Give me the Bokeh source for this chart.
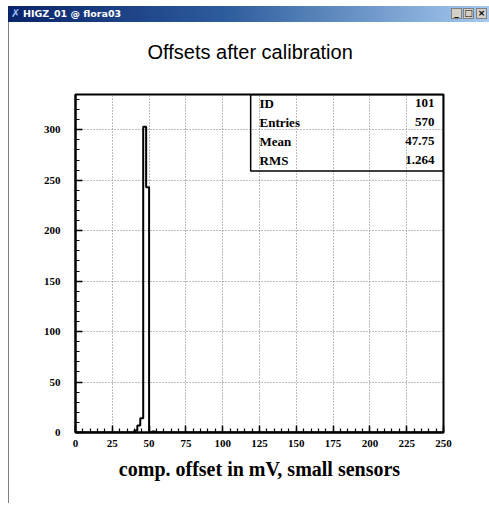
from bokeh.plotting import figure
from bokeh.models import Range1d, SingleIntervalTicker, BoxAnnotation, Div, ColumnDataSource, Title
from bokeh.layouts import column, row
from bokeh.core.properties import value
from bokeh.embed import file_html
from bokeh.resources import INLINE

# ---------------- data ----------------
window_title = "HIGZ_01 @ flora03"
title_text = "Offsets after calibration"
x_label = "comp. offset in mV, small sensors"

x_min, x_max = 0, 250
bin_width = 2
y_min, y_max = 0, 335
nonzero_bin_lows = [40, 42, 44, 46, 48, 52]
nonzero_bin_counts = [2, 7, 14, 303, 243, 1]

stat_names = ["ID", "Entries", "Mean", "RMS"]
stat_values = ["101", "570", "47.75", "1.264"]

x_tick_interval = 25
y_tick_interval = 50

# ---------------- build histogram ----------------
n_bins = (x_max - x_min) // bin_width
edges = [x_min + i * bin_width for i in range(n_bins + 1)]
counts = [0] * n_bins
for lo, c in zip(nonzero_bin_lows, nonzero_bin_counts):
    counts[(lo - x_min) // bin_width] = c
step_y = counts + [counts[-1]]

SERIF = "Liberation Serif"
SANS = "Liberation Sans"

p = figure(
    width=480, height=481,
    frame_width=368, frame_height=338,
    min_border_left=66, min_border_right=46,
    min_border_top=72, min_border_bottom=71,
    x_range=Range1d(x_min, x_max), y_range=Range1d(y_min, y_max),
    output_backend="svg", toolbar_location=None,
)
p.background_fill_color = "white"
p.border_fill_color = "white"
p.outline_line_color = "black"
p.outline_line_width = 2
p.outline_line_alpha = 1.0

xr = x_max - x_min
yr = y_max - y_min

# white spacer (closest to the frame) then the real title above it
p.add_layout(Title(text=".", text_font_size="10px", standoff=22, text_color="white"), "above")
p.add_layout(Title(text=title_text, align="left", offset=72, standoff=0,
                   vertical_align="bottom", text_font=SANS, text_font_style="normal",
                   text_font_size="20px", text_color="black"), "above")

xt = SingleIntervalTicker(interval=x_tick_interval, num_minor_ticks=5)
yt = SingleIntervalTicker(interval=y_tick_interval, num_minor_ticks=5)
p.xaxis.ticker = xt
p.yaxis.ticker = yt
p.xgrid.ticker = xt
p.ygrid.ticker = yt

for ax in (p.xaxis[0], p.yaxis[0]):
    ax.axis_line_color = "black"
    ax.axis_line_width = 2
    ax.major_tick_in = 7
    ax.major_tick_out = 0
    ax.minor_tick_in = 4
    ax.minor_tick_out = 0
    ax.major_tick_line_color = "black"
    ax.major_tick_line_width = 1.5
    ax.minor_tick_line_color = "black"
    ax.minor_tick_line_width = 1.2
    ax.major_label_text_font = SERIF
    ax.major_label_text_font_style = "bold"
    ax.major_label_text_font_size = "11px"
    ax.major_label_text_color = "black"

p.yaxis.major_label_standoff = 15
p.xaxis.major_label_standoff = 7
p.xaxis.axis_label = x_label
p.xaxis.axis_label_text_font = SERIF
p.xaxis.axis_label_text_font_style = "bold"
p.xaxis.axis_label_text_font_size = "20px"
p.xaxis.axis_label_text_color = "black"
p.xaxis.axis_label_standoff = 8

for g in (p.xgrid[0], p.ygrid[0]):
    g.grid_line_color = "#7a7a7a"
    g.grid_line_dash = "1 2"
    g.grid_line_width = 1

p.step(x=edges, y=step_y, mode="after", line_color="black", line_width=2)

# ---------------- statistics box ----------------
box_left = x_min + 0.476 * xr
box_bottom = y_min + 0.774 * yr
box_top = y_max
box_right = x_max
p.add_layout(BoxAnnotation(left=box_left, right=box_right, bottom=box_bottom, top=box_top,
                           fill_alpha=0, line_color="black", line_width=1.5, line_alpha=1))

row_h = (box_top - box_bottom) / len(stat_names)
row_y = [box_top - (i + 0.5) * row_h + 1 for i in range(len(stat_names))]
name_x = [x_min + 0.5 * xr] * len(stat_names)
val_x = [x_min + 0.9755 * xr] * len(stat_names)

src_n = ColumnDataSource(dict(x=name_x, y=row_y, t=stat_names))
src_v = ColumnDataSource(dict(x=val_x, y=row_y, t=stat_values))
p.text(x="x", y="y", text="t", source=src_n, text_font=value(SERIF), text_font_style="bold",
       text_font_size="13px", text_align="left", text_baseline="middle", text_color="black")
p.text(x="x", y="y", text="t", source=src_v, text_font=value(SERIF), text_font_style="bold",
       text_font_size="13px", text_align="right", text_baseline="middle", text_color="black")

# ---------------- window chrome ----------------
btn = ('position:absolute;top:2px;width:11px;height:11px;background:#d4d0c8;'
       'border:1px solid #808080;box-sizing:border-box;color:black;font-size:9px;'
       'line-height:9px;text-align:center;')
bar_html = (
    '<div style="position:relative;width:489px;height:22px;background:white;">'
    '<div style="position:absolute;left:8px;top:6px;width:481px;height:16px;overflow:hidden;'
    'background:linear-gradient(to right,#0a246a 0%,#2d5c9c 45%,#a6caf0 100%);'
    'font-family:\'DejaVu Sans\',sans-serif;font-size:9.5px;font-weight:bold;color:white;'
    'line-height:16px;white-space:nowrap;">'
    '<span style="position:absolute;left:3px;top:0;color:#9fc4ff;font-size:11px;">&#x2717;</span>'
    '<span style="position:absolute;left:15px;top:0;">' + window_title + '</span>'
    '<span style="' + btn + 'right:27px;">_</span>'
    '<span style="' + btn + 'right:15px;">&#x25A1;</span>'
    '<span style="' + btn + 'right:2px;">&#x00D7;</span>'
    '</div></div>'
)
top_bar = Div(text=bar_html, width=489, height=22, margin=0)
left_edge = Div(text='<div style="width:9px;height:481px;box-sizing:border-box;'
                     'border-right:1px solid #7f7f7f;background:white;"></div>',
                width=9, height=481, margin=0)
bottom_edge = Div(text='<div style="margin-left:8px;width:481px;height:1px;background:#7f7f7f;"></div>',
                  width=489, height=1, margin=0)

layout = column(top_bar, row(left_edge, p, spacing=0), bottom_edge, spacing=0)
open("out.html", "w").write(file_html(layout, INLINE))
